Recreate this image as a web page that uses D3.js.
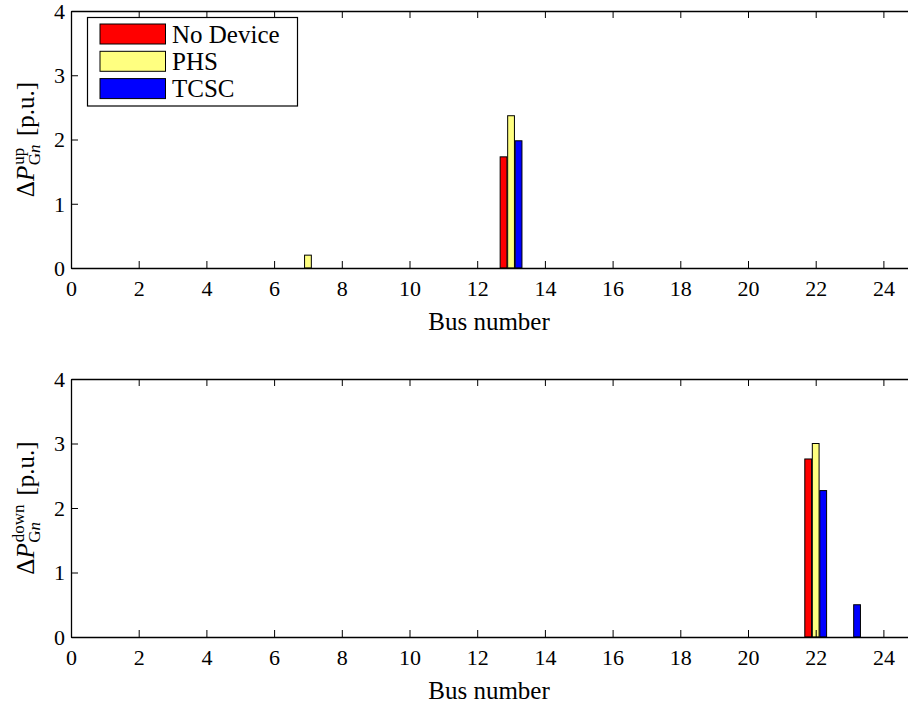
<!DOCTYPE html>
<html>
<head>
<meta charset="utf-8">
<script src="https://cdn.jsdelivr.net/npm/d3@7"></script>
<style>
  html, body { margin: 0; padding: 0; background: #fff; }
  svg { display: block; }
  svg text { font-family: "Liberation Serif", "Times New Roman", "DejaVu Serif", serif !important; fill: #000; }
</style>
</head>
<body>
<svg id="chart" width="908" height="704"></svg>
<script>
// Bus numbers of the 24-bus system
const buses = d3.range(1, 25);

// Series names and fills
const seriesNames = ["No Device", "PHS", "TCSC"];
const seriesColors = ["#ff0000", "#ffff80", "#0000ff"];

// Upward generation adjustment per bus [p.u.]
const upNoDevice = [0,0,0,0,0,0,0,0,0,0,0,0,1.73,0,0,0,0,0,0,0,0,0,0,0];
const upPHS      = [0,0,0,0,0,0,0.2,0,0,0,0,0,2.37,0,0,0,0,0,0,0,0,0,0,0];
const upTCSC     = [0,0,0,0,0,0,0,0,0,0,0,0,1.98,0,0,0,0,0,0,0,0,0,0,0];

// Downward generation adjustment per bus [p.u.]
const downNoDevice = [0,0,0,0,0,0,0,0,0,0,0,0,0,0,0,0,0,0,0,0,0,2.76,0,0];
const downPHS      = [0,0,0,0,0,0,0,0,0,0,0,0,0,0,0,0,0,0,0,0,0,3.0,0,0];
const downTCSC     = [0,0,0,0,0,0,0,0,0,0,0,0,0,0,0,0,0,0,0,0,0,2.27,0.5,0];

// Axis ticks
const xTicks = [0,2,4,6,8,10,12,14,16,18,20,22,24];
const yTicks = [0,1,2,3,4];
const xLabel = "Bus number";

const svg = d3.select("#chart");
const left = 71;
const unit = 33.85;
const x = d3.scaleLinear().domain([0, 25]).range([left, left + 25 * unit]);

// Grouped bar offsets and width (in bus units)
const offsets = [-0.222, 0, 0.222];
const barW = 0.2;

function panel(top, bottom, series, labelSup) {
  const y = d3.scaleLinear().domain([0, 4]).range([bottom, top]);
  const g = svg.append("g");

  // bars
  series.forEach((vals, si) => {
    g.append("g").selectAll("rect")
      .data(buses.map((b, i) => ({ bus: b, v: vals[i] })).filter(d => d.v > 0))
      .join("rect")
      .attr("x", d => x(d.bus + offsets[si] - barW / 2))
      .attr("width", x(barW) - x(0))
      .attr("y", d => y(d.v))
      .attr("height", d => y(0) - y(d.v))
      .attr("fill", seriesColors[si])
      .attr("stroke", "#000")
      .attr("stroke-width", 1);
  });

  // bottom axis with inward ticks
  const xb = g.append("g").attr("transform", `translate(0,${bottom})`)
    .call(d3.axisBottom(x).tickValues(xTicks).tickFormat(d3.format("d"))
      .tickSizeInner(-7).tickSizeOuter(0).tickPadding(12));
  // top border with inward ticks
  const xt = g.append("g").attr("transform", `translate(0,${top})`)
    .call(d3.axisTop(x).tickValues(xTicks).tickSizeInner(-7).tickSizeOuter(0).tickFormat(""));
  // left axis
  const yl = g.append("g").attr("transform", `translate(${left},0)`)
    .call(d3.axisLeft(y).tickValues(yTicks).tickFormat(d3.format("d"))
      .tickSizeInner(-7).tickSizeOuter(0).tickPadding(6));

  [xb, xt, yl].forEach(a => {
    a.attr("font-size", 22).attr("font-family", null);
    a.selectAll("path.domain").attr("stroke", "#000").attr("stroke-width", 1.3);
    a.selectAll(".tick line").attr("stroke", "#000").attr("stroke-width", 1);
    a.selectAll(".tick text").attr("fill", "#000");
  });
  xb.selectAll(".tick text").attr("dy", "0.71em");
  yl.selectAll(".tick text").attr("dy", "0.34em");

  // x label
  g.append("text")
    .attr("x", (left + 907) / 2)
    .attr("y", bottom + 62)
    .attr("text-anchor", "middle")
    .attr("font-size", 25)
    .text(xLabel);

  // y label: ΔP with stacked super/subscripts, rotated
  const cy = (top + bottom) / 2;
  const lab = g.append("g").attr("transform", `translate(34,${cy}) rotate(-90)`);
  const t1 = lab.append("text").attr("font-size", 25).attr("x", 0).attr("y", 0);
  t1.append("tspan").text("Δ");
  t1.append("tspan").attr("font-style", "italic").text("P");
  const w1 = t1.node().getComputedTextLength();
  const sup = lab.append("text").attr("font-size", 17).attr("x", w1 + 1).attr("y", -10).text(labelSup);
  const sub = lab.append("text").attr("font-size", 17).attr("x", w1 + 0.5).attr("y", 6);
  sub.append("tspan").text("G");
  sub.append("tspan").attr("font-style", "italic").text("n");
  const w2 = Math.max(sup.node().getComputedTextLength() + 1, sub.node().getComputedTextLength());
  const t3 = lab.append("text").attr("font-size", 25).attr("x", w1 + w2 + 9).attr("y", 0).text("[p.u.]");
  const total = w1 + w2 + 9 + t3.node().getComputedTextLength();
  lab.selectAll("text").each(function () {
    const el = d3.select(this);
    el.attr("x", +el.attr("x") - total / 2);
  });
}

panel(11, 268, [upNoDevice, upPHS, upTCSC], "up");
panel(379, 637, [downNoDevice, downPHS, downTCSC], "down");

// legend
const leg = svg.append("g");
leg.append("rect").attr("x", 87.5).attr("y", 17.5).attr("width", 210).attr("height", 88.5)
  .attr("fill", "#fff").attr("stroke", "#000").attr("stroke-width", 1.2);
seriesNames.forEach((name, i) => {
  const yy = 24 + i * 27.3;
  leg.append("rect").attr("x", 100).attr("y", yy).attr("width", 65.5).attr("height", 20)
    .attr("fill", seriesColors[i]).attr("stroke", "#000").attr("stroke-width", 1);
  leg.append("text").attr("x", 172).attr("y", yy + 10).attr("dy", "0.35em")
    .attr("font-size", 25).text(name);
});
</script>
</body>
</html>
